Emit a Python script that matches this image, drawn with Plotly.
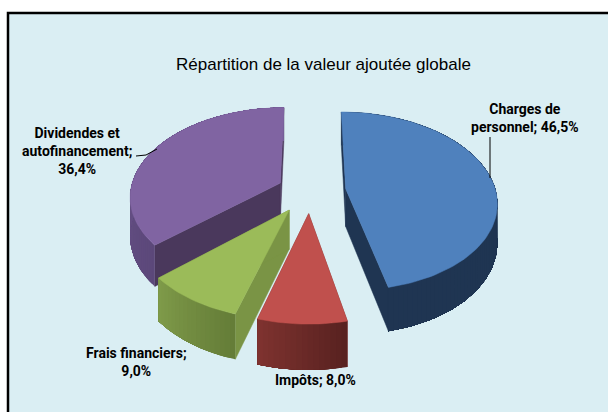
import math
import plotly.graph_objects as go

categories = ["Charges de personnel", "Impôts", "Frais financiers", "Dividendes et autofinancement"]
values = [46.5, 8.0, 9.0, 36.4]
title = "Répartition de la valeur ajoutée globale"

top_colors = ["#4F81BD", "#C0504D", "#9BBB59", "#8064A2"]
wall_colors = ["#1F3552", "#7C2F2D", "#7A9445", "#4A385C"]
rim_start = [(31, 53, 82), (88, 34, 32), (101, 125, 56), (92, 72, 122)]
rim_end = [(31, 53, 82), (126, 50, 47), (126, 154, 73), (118, 94, 152)]
pulls = [0.24, 0.25, 0.25, 0.22]

# projection constants (oblique pie with perspective, in page pixels)
CX, CY, RX, RY, PERSP, DEPTH = 310, 191, 150, 88, 0.139, 38


def project(px, py):
    s = 1 / (1 - PERSP * py)
    return CX + RX * px * s, CY + RY * py * s, s


def poly(fig, pts, color, lw=0.5):
    fig.add_trace(go.Scatter(
        x=[p[0] for p in pts] + [pts[0][0]], y=[p[1] for p in pts] + [pts[0][1]],
        mode="lines", fill="toself", fillcolor=color,
        line=dict(color=color, width=lw), hoverinfo="skip", showlegend=False))


def hexrgb(c):
    return "rgb(%d,%d,%d)" % c


fig = go.Figure()
total = sum(values)
angles = [0.0]
for v in values:
    angles.append(angles[-1] + v / total * 2 * math.pi)

for i in [3, 0, 2, 1]:  # painter's order, back to front
    a0, a1 = angles[i], angles[i + 1]
    mid = (a0 + a1) / 2
    ax, ay = pulls[i] * math.sin(mid), -pulls[i] * math.cos(mid)
    n = max(4, int((a1 - a0) / 0.03))
    arc = [(ax + math.sin(a0 + (a1 - a0) * k / n), ay - math.cos(a0 + (a1 - a0) * k / n)) for k in range(n + 1)]
    apex = project(ax, ay)
    ptop = [project(*p) for p in arc]
    pbot = [(p[0], p[1] + DEPTH * p[2]) for p in ptop]
    abot = (apex[0], apex[1] + DEPTH * apex[2])
    # radial walls
    for t, b in ((ptop[0], pbot[0]), (ptop[-1], pbot[-1])):
        poly(fig, [apex[:2], t[:2], b[:2], abot[:2]], wall_colors[i])
    # outer rim with shading along the arc (each strip reaches to the arc's end, so no seams)
    for k in range(n):
        f = k / max(1, n - 1)
        col = tuple(round(rim_start[i][c] + (rim_end[i][c] - rim_start[i][c]) * f) for c in range(3))
        poly(fig, [p[:2] for p in ptop[k:]] + [p[:2] for p in reversed(pbot[k:])], hexrgb(col), lw=0)
    # top face
    poly(fig, [apex[:2]] + [p[:2] for p in ptop], top_colors[i])


def pct(v):
    return f"{v:.1f}".replace(".", ",") + "%"


font = dict(family="Roboto, Liberation Sans, sans-serif", size=14, color="#000000")
labels = [
    (f"<b>Charges de<br>personnel; {pct(values[0])}</b>", 525, 118),
    (f"<b>Impôts; {pct(values[1])}</b>", 315, 380),
    (f"<b>Frais financiers;<br>{pct(values[2])}</b>", 136, 362),
    (f"<b>Dividendes et<br>autofinancement;<br>{pct(values[3])}</b>", 77, 151),
]
annotations = [dict(x=x, y=y, text=t, showarrow=False, xanchor="center", yanchor="middle",
                    align="center", font=font, xref="x", yref="y") for t, x, y in labels]
annotations.append(dict(x=323, y=64, text=title, showarrow=False, xanchor="center", yanchor="middle",
                        font=dict(family="Liberation Sans, sans-serif", size=17, color="#000000"),
                        xref="x", yref="y"))

shapes = [
    dict(type="rect", x0=8, y0=13, x1=640, y1=450, xref="x", yref="y", layer="below",
         fillcolor="#DAEEF3", line=dict(color="#000000", width=2.5)),
    dict(type="line", x0=490, y0=137, x1=490, y1=178, xref="x", yref="y", line=dict(color="#000000", width=1)),
    dict(type="line", x0=136, y0=156, x1=146, y1=155, xref="x", yref="y", line=dict(color="#000000", width=1)),
    dict(type="line", x0=146, y0=155, x1=157, y1=149, xref="x", yref="y", line=dict(color="#000000", width=1)),
]

fig.update_layout(
    width=608, height=412, margin=dict(l=0, r=0, t=0, b=0),
    paper_bgcolor="#FFFFFF", plot_bgcolor="#FFFFFF",
    xaxis=dict(range=[0, 608], visible=False, fixedrange=True),
    yaxis=dict(range=[412, 0], visible=False, fixedrange=True),
    annotations=annotations, shapes=shapes, showlegend=False,
)
fig.write_html("out.html", config=dict(displayModeBar=False),
               post_script="document.body.style.margin='0';document.body.style.overflow='hidden';")
